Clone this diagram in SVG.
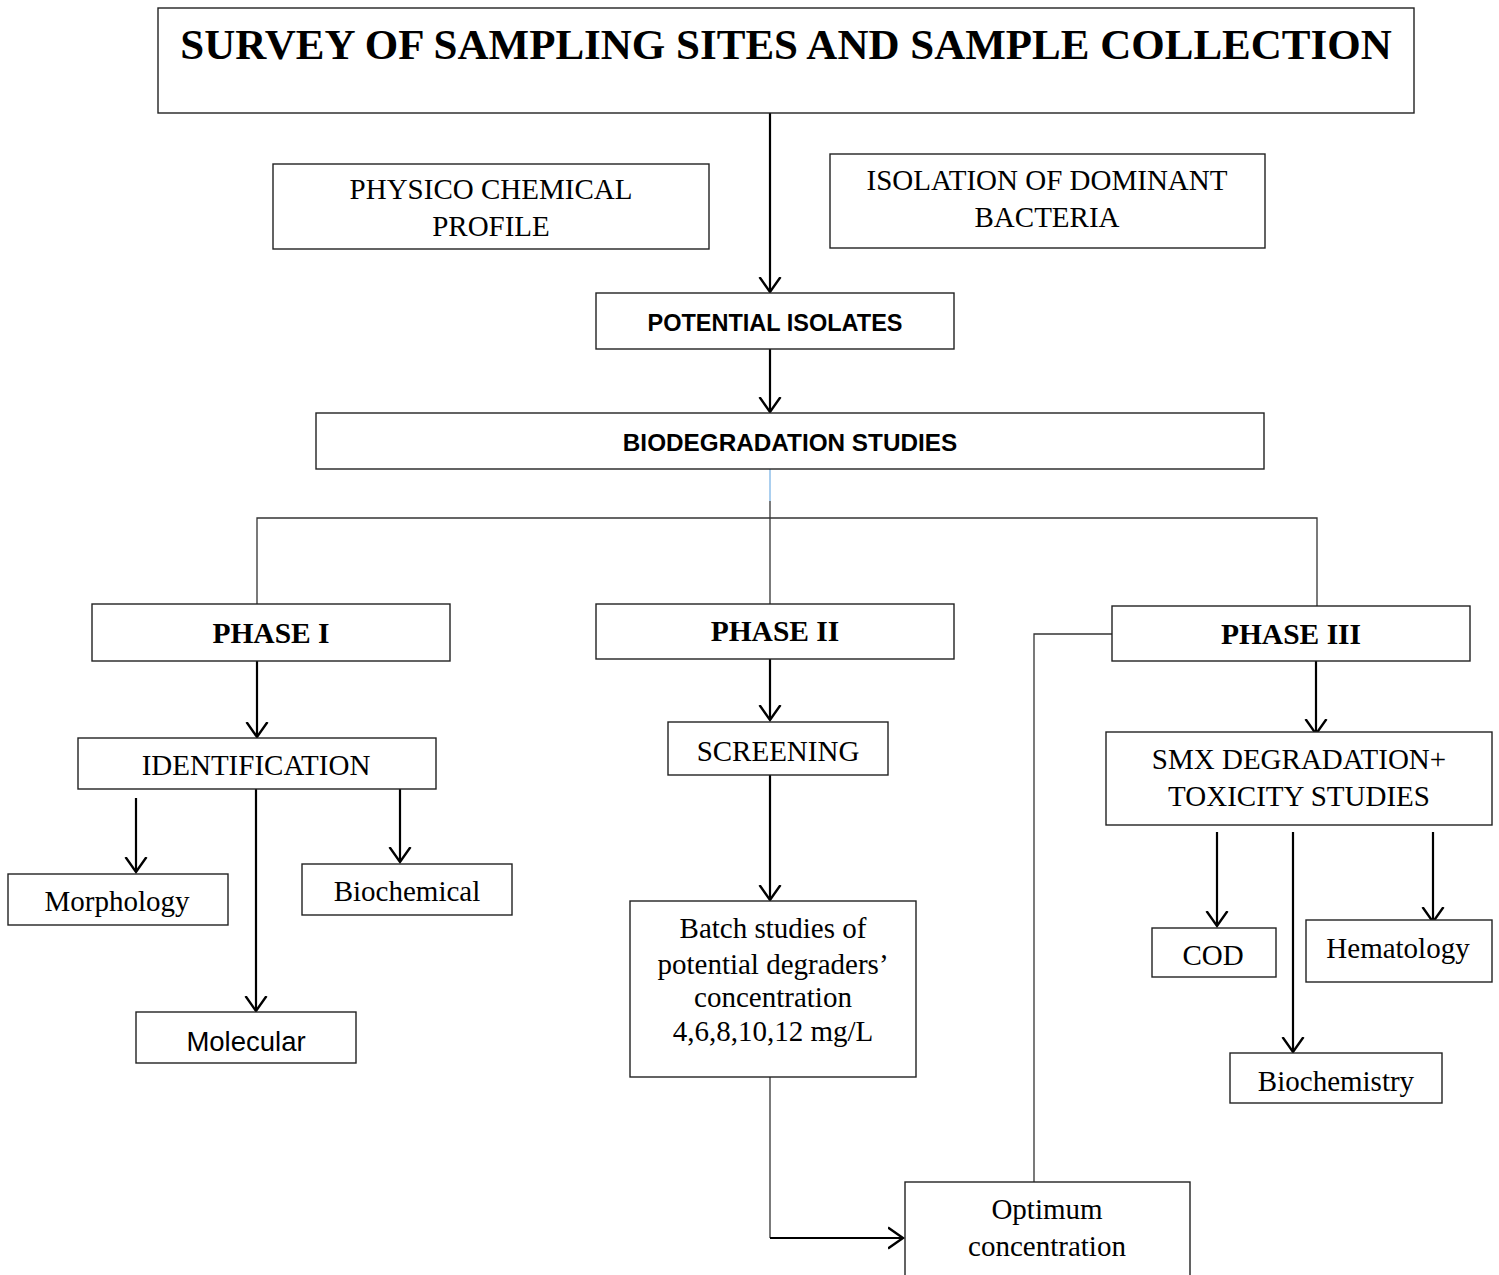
<svg xmlns="http://www.w3.org/2000/svg" width="1499" height="1275" viewBox="0 0 1499 1275">
<style>
.box{fill:#fff;stroke:#222;stroke-width:1.4}
.c{fill:none;stroke:#000;stroke-width:2.2}
.t{fill:none;stroke:#333;stroke-width:1.3}
.serif{font-family:"Liberation Serif","Times New Roman",serif;font-size:29px;fill:#000;text-anchor:middle}
.bs{font-family:"Liberation Serif","Times New Roman",serif;font-size:29.5px;font-weight:bold;fill:#000;text-anchor:middle}
.sans{font-family:"Liberation Sans",Arial,sans-serif;font-size:23.5px;font-weight:bold;fill:#000;text-anchor:middle}
</style>
<defs>
<marker id="a" markerUnits="userSpaceOnUse" markerWidth="30" markerHeight="30" refX="15" refY="15" orient="auto" viewBox="0 0 30 30">
<path d="M0,4.5 L15,15 L0,25.5" fill="none" stroke="#000" stroke-width="2.4"/>
</marker>
</defs>
<rect width="1499" height="1275" fill="#fff"/>
<g id="connectors">
<line class="c" x1="770" y1="113" x2="770" y2="292" marker-end="url(#a)"/>
<line class="c" x1="770" y1="349" x2="770" y2="412" marker-end="url(#a)"/>
<line x1="770" y1="469" x2="770" y2="501" stroke="#8fbfea" stroke-width="1.5"/>
<line class="t" x1="770" y1="501" x2="770" y2="604"/>
<polyline class="t" points="257,604 257,518 1317,518 1317,606"/>
<polyline class="t" points="1112,634 1034,634 1034,1182"/>
<line class="c" x1="257" y1="661" x2="257" y2="737" marker-end="url(#a)"/>
<line class="c" x1="136" y1="798" x2="136" y2="872" marker-end="url(#a)"/>
<line class="c" x1="256" y1="789" x2="256" y2="1011" marker-end="url(#a)"/>
<line class="c" x1="400" y1="789" x2="400" y2="862" marker-end="url(#a)"/>
<line class="c" x1="770" y1="659" x2="770" y2="720" marker-end="url(#a)"/>
<line class="c" x1="770" y1="775" x2="770" y2="900" marker-end="url(#a)"/>
<polyline class="t" points="770,1077 770,1238"/>
<line class="c" x1="770" y1="1238" x2="903" y2="1238" marker-end="url(#a)"/>
<line class="c" x1="1316" y1="661" x2="1316" y2="734" marker-end="url(#a)"/>
<line class="c" x1="1217" y1="832" x2="1217" y2="926" marker-end="url(#a)"/>
<line class="c" x1="1293" y1="832" x2="1293" y2="1052" marker-end="url(#a)"/>
<line class="c" x1="1433" y1="832" x2="1433" y2="922" marker-end="url(#a)"/>
</g>
<g id="title"><rect class="box" x="158" y="8" width="1256" height="105"/><text class="bs" x="786" y="59" style="font-size:43px">SURVEY OF SAMPLING SITES AND SAMPLE COLLECTION</text></g>
<g id="physico"><rect class="box" x="273" y="164" width="436" height="85"/><text class="serif" x="491" y="199">PHYSICO CHEMICAL</text><text class="serif" x="491" y="236">PROFILE</text></g>
<g id="isolation"><rect class="box" x="830" y="154" width="435" height="94"/><text class="serif" x="1047" y="190">ISOLATION OF DOMINANT</text><text class="serif" x="1047" y="227">BACTERIA</text></g>
<g id="potential"><rect class="box" x="596" y="293" width="358" height="56"/><text class="sans" x="775" y="331">POTENTIAL ISOLATES</text></g>
<g id="biodeg"><rect class="box" x="316" y="413" width="948" height="56"/><text class="sans" x="790" y="451" style="font-size:24.3px">BIODEGRADATION STUDIES</text></g>
<g id="phase1"><rect class="box" x="92" y="604" width="358" height="57"/><text class="bs" x="271" y="643">PHASE I</text></g>
<g id="phase2"><rect class="box" x="596" y="604" width="358" height="55"/><text class="bs" x="775" y="641">PHASE II</text></g>
<g id="phase3"><rect class="box" x="1112" y="606" width="358" height="55"/><text class="bs" x="1291" y="644">PHASE III</text></g>
<g id="identification"><rect class="box" x="78" y="738" width="358" height="51"/><text class="serif" x="256" y="775">IDENTIFICATION</text></g>
<g id="morphology"><rect class="box" x="8" y="874" width="220" height="51"/><text class="serif" x="117" y="911">Morphology</text></g>
<g id="molecular"><rect class="box" x="136" y="1012" width="220" height="51"/><text class="sans" x="246" y="1051" style="font-weight:normal;font-size:27.5px">Molecular</text></g>
<g id="biochemical"><rect class="box" x="302" y="864" width="210" height="51"/><text class="serif" x="407" y="901">Biochemical</text></g>
<g id="screening"><rect class="box" x="668" y="722" width="220" height="53"/><text class="serif" x="778" y="761">SCREENING</text></g>
<g id="batch"><rect class="box" x="630" y="901" width="286" height="176"/><text class="serif" x="773" y="938">Batch studies of</text><text class="serif" x="773" y="974">potential degraders’</text><text class="serif" x="773" y="1007">concentration</text><text class="serif" x="773" y="1041">4,6,8,10,12 mg/L</text></g>
<g id="optimum"><rect class="box" x="905" y="1182" width="285" height="100"/><text class="serif" x="1047" y="1219">Optimum</text><text class="serif" x="1047" y="1256">concentration</text></g>
<g id="smx"><rect class="box" x="1106" y="732" width="386" height="93"/><text class="serif" x="1299" y="769">SMX DEGRADATION+</text><text class="serif" x="1299" y="806">TOXICITY STUDIES</text></g>
<g id="cod"><rect class="box" x="1152" y="928" width="124" height="49"/><text class="serif" x="1213" y="965">COD</text></g>
<g id="hematology"><rect class="box" x="1306" y="920" width="186" height="62"/><text class="serif" x="1398" y="958">Hematology</text></g>
<g id="biochemistry"><rect class="box" x="1230" y="1053" width="212" height="50"/><text class="serif" x="1336" y="1091">Biochemistry</text></g>
</svg>
